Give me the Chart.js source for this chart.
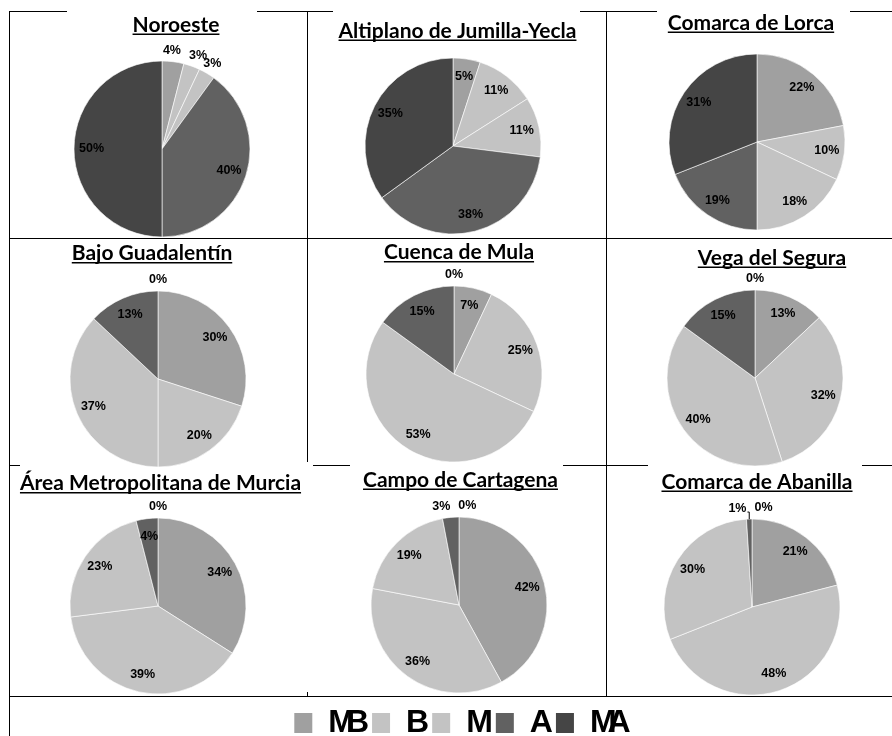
<!DOCTYPE html>
<html>
<head>
<meta charset="utf-8">
<script src="https://cdn.jsdelivr.net/npm/chart.js@4.4.0/dist/chart.umd.min.js"></script>
<style>
    html, body { margin: 0; padding: 0; background: #fff; }
    #page { position: relative; width: 892px; height: 736px; overflow: hidden; background: #fff; }
    .hline { position: absolute; height: 1px; background: #000; }
    .vline { position: absolute; width: 1px; background: #000; }
    .panel { position: absolute; background: #fff; }
    canvas { position: absolute; }
</style>
</head>
<body>
<div id="page"></div>
<script>
var regions = ['Noroeste', 'Altiplano de Jumilla-Yecla', 'Comarca de Lorca',
    'Bajo Guadalentín', 'Cuenca de Mula', 'Vega del Segura',
    'Área Metropolitana de Murcia', 'Campo de Cartagena', 'Comarca de Abanilla'];
var categories = ['MB', 'B', 'M', 'A', 'MA'];
var mbValues = [4, 5, 22, 30, 7, 13, 34, 42, 21];
var bValues = [3, 11, 10, 20, 25, 32, 39, 36, 48];
var mValues = [3, 11, 18, 37, 53, 40, 23, 19, 30];
var aValues = [40, 38, 19, 13, 15, 15, 4, 3, 1];
var maValues = [50, 35, 31, 0, 0, 0, 0, 0, 0];

var colors = ['#a0a0a0', '#c3c3c3', '#c3c3c3', '#616161', '#454545'];

// layout (page pixels)
var pieCenters = [[162, 148.5], [452.5, 145.5], [757, 141.5],
    [158, 379], [454, 374], [755, 377.5],
    [157.5, 606], [458.5, 604.5], [752, 606.5]];
var titlePos = [[176, 31], [457, 37], [751, 29],
    [152, 260], [459, 259], [772, 264],
    [160, 490], [460, 486], [757, 488]];
var pieSize = 177;

var page = document.getElementById('page');

function addDiv(cls, x, y, w, h) {
    var d = document.createElement('div');
    d.className = cls;
    d.style.left = x + 'px';
    d.style.top = y + 'px';
    if (w !== null) d.style.width = w + 'px';
    if (h !== null) d.style.height = h + 'px';
    page.appendChild(d);
}

// table grid
[11, 238, 465, 696].forEach(function (y) { addDiv('hline', 9, y, 883, null); });
addDiv('vline', 9, 11, null, 725);
addDiv('vline', 307, 11, null, 685);
addDiv('vline', 606, 11, null, 685);

// white chart backgrounds that hide parts of the grid
addDiv('panel', 67, 0, 190, 236);
addDiv('panel', 333, 0, 247, 236);
addDiv('panel', 657, 0, 193, 236);
addDiv('panel', 20, 462, 293, 230);
addDiv('panel', 350, 462, 213, 230);
addDiv('panel', 648, 462, 214, 232);

Chart.defaults.font.family = '"Liberation Sans", Arial, sans-serif';

var underlinedTitle = {
    id: 'underlinedTitle',
    afterDraw: function (chart, args, opts) {
        var ctx = chart.ctx;
        ctx.save();
        ctx.font = 'bold 21px Lato, "Open Sans", sans-serif';
        ctx.fillStyle = '#000';
        ctx.textAlign = 'center';
        ctx.textBaseline = 'alphabetic';
        ctx.fillText(opts.text, opts.x, opts.y);
        var w = ctx.measureText(opts.text).width;
        ctx.fillRect(opts.x - w / 2, opts.y + 2, w, 1.5);
        ctx.restore();
    }
};

var pieLabels = {
    id: 'pieLabels',
    afterDatasetsDraw: function (chart) {
        var ctx = chart.ctx;
        var meta = chart.getDatasetMeta(0);
        var values = chart.data.datasets[0].data;
        var n = values.length;
        var items = [];
        ctx.save();
        ctx.font = 'bold 12.5px "Liberation Sans", Arial, sans-serif';
        meta.data.forEach(function (arc, i) {
            var v = values[i];
            var prev = values[(i + n - 1) % n];
            var next = values[(i + 1) % n];
            var outside = v <= 3 || (v < 5 && ((prev > 0 && prev < 5) || (next > 0 && next < 5)));
            var mid = (arc.startAngle + arc.endAngle) / 2;
            var r = outside ? arc.outerRadius + 11 : arc.outerRadius * 0.8;
            var x = arc.x + Math.cos(mid) * r;
            var y = arc.y + Math.sin(mid) * r;
            items.push({
                text: v + '%', v: v, x: x, y: y, ax: x, outside: outside,
                w: ctx.measureText(v + '%').width,
                ex: arc.x + Math.cos(mid) * arc.outerRadius,
                ey: arc.y + Math.sin(mid) * arc.outerRadius
            });
        });

        // push overlapping outside labels apart
        var outs = items.filter(function (it) { return it.outside; });
        for (var k = 0; k < 10; k++) {
            for (var a = 0; a < outs.length; a++) {
                for (var b = a + 1; b < outs.length; b++) {
                    var p = outs[a], q = outs[b];
                    var need = (p.w + q.w) / 2 + 8;
                    var dx = q.x - p.x;
                    if (Math.abs(dx) < need && Math.abs(q.y - p.y) < 7) {
                        var s = (need - Math.abs(dx)) / 2;
                        var sign = dx >= 0 ? 1 : -1;
                        p.x -= s * sign;
                        q.x += s * sign;
                    }
                }
            }
        }

        ctx.fillStyle = '#000';
        ctx.strokeStyle = '#000';
        ctx.lineWidth = 1;
        ctx.textAlign = 'center';
        ctx.textBaseline = 'middle';
        items.forEach(function (it) {
            ctx.fillText(it.text, it.x, it.y);
            if (it.outside && it.v > 0 && Math.abs(it.x - it.ax) > 10) {
                var lx = it.x < it.ex ? it.x + it.w / 2 + 1 : it.x - it.w / 2 - 1;
                ctx.beginPath();
                ctx.moveTo(lx, it.y + 4);
                ctx.lineTo(it.ex, it.y + 4);
                ctx.lineTo(it.ex, it.ey);
                ctx.stroke();
            }
        });
        ctx.restore();
    }
};

function makeCanvas(x, y, w, h) {
    var c = document.createElement('canvas');
    c.width = w;
    c.height = h;
    c.style.left = x + 'px';
    c.style.top = y + 'px';
    c.style.width = w + 'px';
    c.style.height = h + 'px';
    page.appendChild(c);
    return c;
}

regions.forEach(function (name, i) {
    var cx = pieCenters[i][0], cy = pieCenters[i][1];
    var left = cx - 150, top = cy - 150;
    var w = 300, h = 245;
    var pad = 150 - pieSize / 2;
    var canvas = makeCanvas(left, top, w, h);
    new Chart(canvas, {
        type: 'pie',
        data: {
            labels: categories,
            datasets: [{
                data: [mbValues[i], bValues[i], mValues[i], aValues[i], maValues[i]],
                backgroundColor: colors,
                borderColor: 'rgba(255,255,255,0.6)',
                borderWidth: 1
            }]
        },
        options: {
            responsive: false,
            animation: false,
            layout: {
                padding: { left: pad, right: w - pad - pieSize, top: pad, bottom: h - pad - pieSize }
            },
            plugins: {
                legend: { display: false },
                tooltip: { enabled: false },
                title: { display: false },
                underlinedTitle: { text: name, x: titlePos[i][0] - left, y: titlePos[i][1] - top }
            }
        },
        plugins: [pieLabels, underlinedTitle]
    });
});

// shared legend in the bottom row (canvas runs past the page bottom so the
// legend box is not limited to half of a short canvas)
var tightText = {
    id: 'tightText',
    beforeLayout: function (chart) { chart.ctx.letterSpacing = '-9px'; },
    beforeDraw: function (chart) { chart.ctx.letterSpacing = '-9px'; }
};

var legendCanvas = makeCanvas(0, 695, 892, 130);
new Chart(legendCanvas, {
    type: 'pie',
    data: {
        labels: categories,
        datasets: [{
            data: [mbValues[0], bValues[0], mValues[0], aValues[0], maValues[0]],
            backgroundColor: colors,
            borderWidth: 0
        }]
    },
    options: {
        responsive: false,
        animation: false,
        radius: 0,
        layout: { padding: { left: 24, top: 0 } },
        plugins: {
            tooltip: { enabled: false },
            legend: {
                position: 'top',
                labels: {
                    boxWidth: 18,
                    boxHeight: 20,
                    padding: 12,
                    color: '#000',
                    font: { size: 32, weight: 'bold' }
                }
            }
        }
    },
    plugins: [tightText]
});
</script>
</body>
</html>
